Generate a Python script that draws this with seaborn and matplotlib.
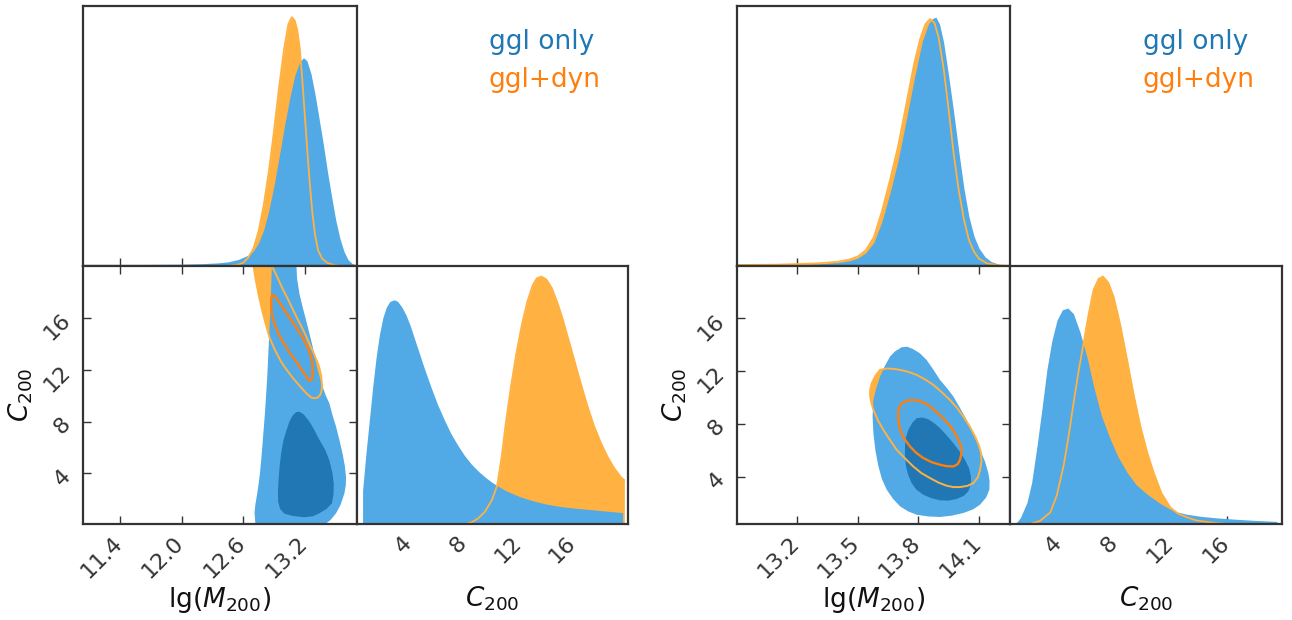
import numpy as np
import matplotlib
matplotlib.use("Agg")
import matplotlib.pyplot as plt
from matplotlib.transforms import ScaledTranslation
import seaborn as sns

sns.set_theme(style="white")
plt.rcParams['font.family'] = ['DejaVu Sans']
plt.rcParams['mathtext.fontset'] = 'dejavusans'

# ---------------- data ----------------
series_names = ["ggl only", "ggl+dyn"]
lgm_ticks_L = [11.4, 12.0, 12.6, 13.2]
lgm_ticks_R = [13.2, 13.5, 13.8, 14.1]
c_ticks = [4, 8, 12, 16]

# left corner: marginal of lg(M200) (normalised height)
lgm_only_L_x = [11.04, 11.6, 12.0, 12.2, 12.35, 12.45, 12.55, 12.65, 12.70, 12.75, 12.80, 12.85,
                12.90, 12.95, 13.00, 13.05, 13.10, 13.15, 13.187, 13.22, 13.26, 13.30, 13.34,
                13.38, 13.42, 13.46, 13.50, 13.54, 13.58, 13.62, 13.66, 13.70]
lgm_only_L_y = [0.006, 0.006, 0.007, 0.009, 0.012, 0.016, 0.025, 0.042, 0.058, 0.09, 0.14, 0.215,
                0.31, 0.42, 0.535, 0.64, 0.73, 0.785, 0.801, 0.79, 0.74, 0.66, 0.565,
                0.47, 0.365, 0.27, 0.18, 0.11, 0.058, 0.025, 0.01, 0.004]
lgm_dyn_L_x = [11.04, 12.45, 12.55, 12.60, 12.65, 12.70, 12.75, 12.80, 12.85, 12.90, 12.95,
               13.00, 13.04, 13.073, 13.10, 13.125, 13.15, 13.175, 13.20, 13.225, 13.25,
               13.275, 13.30, 13.33, 13.37, 13.42, 13.48, 13.55, 13.71]
lgm_dyn_L_y = [0.0, 0.0, 0.005, 0.013, 0.033, 0.068, 0.135, 0.235, 0.365, 0.52, 0.69,
               0.84, 0.93, 0.957, 0.945, 0.91, 0.84, 0.72, 0.58, 0.44, 0.31,
               0.2, 0.12, 0.06, 0.028, 0.012, 0.004, 0.0, 0.0]

# left corner: marginal of C200
c_only_L_x = [0.51, 0.75, 1.0, 1.25, 1.5, 1.75, 2.0, 2.25, 2.5, 2.75, 2.9, 3.1, 3.4, 3.7, 4.0,
              4.5, 5.0, 5.5, 6.0, 6.5, 7.0, 7.5, 8.0, 8.5, 9.0, 9.5, 10.0, 10.5, 11.0, 11.5,
              12.0, 13.0, 14.0, 15.0, 16.0, 17.0, 18.0, 19.0, 19.6]
c_only_L_y = [0.13, 0.27, 0.40, 0.53, 0.645, 0.735, 0.80, 0.84, 0.862, 0.868, 0.868, 0.862,
              0.84, 0.81, 0.77, 0.69, 0.61, 0.535, 0.465, 0.405, 0.35, 0.305, 0.265, 0.232,
              0.205, 0.182, 0.162, 0.145, 0.13, 0.118, 0.107, 0.09, 0.077, 0.068, 0.062,
              0.057, 0.052, 0.047, 0.044]
c_dyn_L_x = [8.07, 8.5, 9.0, 9.5, 10.0, 10.4, 10.75, 11.0, 11.4, 11.8, 12.2, 12.6, 13.0, 13.3,
             13.63, 14.0, 14.4, 14.8, 15.2, 15.6, 16.0, 16.5, 17.0, 17.5, 18.0, 18.5, 19.0,
             19.5, 19.73]
c_dyn_L_y = [0.0, 0.006, 0.022, 0.048, 0.092, 0.15, 0.27, 0.38, 0.53, 0.66, 0.77, 0.86, 0.925,
             0.952, 0.959, 0.948, 0.915, 0.86, 0.795, 0.72, 0.645, 0.55, 0.46, 0.38, 0.315,
             0.26, 0.215, 0.18, 0.17]

# left corner: 2D credible regions (lgM, C200)
only_outer_L_m = [12.88, 12.875, 12.868, 12.86, 12.852, 12.843, 12.834, 12.824, 12.81, 12.795,
                  12.78, 12.765, 12.75, 12.735, 12.718, 12.71, 12.715, 12.72, 13.375, 13.40,
                  13.45, 13.505, 13.55, 13.586, 13.60, 13.602, 13.59, 13.569, 13.54, 13.505,
                  13.47, 13.44, 13.405, 13.375, 13.35, 13.326, 13.30, 13.278, 13.245, 13.213,
                  13.18, 13.148, 13.125, 13.115]
only_outer_L_c = [20.5, 19.0, 17.5, 16.0, 14.5, 13.0, 11.5, 10.2, 8.5, 7.0,
                  5.5, 4.2, 3.2, 2.4, 1.6, 1.0, 0.4, 0.0, 0.0, 0.1,
                  0.4, 0.93, 1.6, 2.46, 3.1, 3.74, 4.6, 5.5, 6.5, 7.6,
                  8.5, 9.4, 10.0, 10.66, 11.3, 11.95, 12.85, 13.74, 14.8, 15.8,
                  16.8, 17.85, 19.0, 20.5]
only_inner_L_m = [13.116, 13.08, 13.05, 13.02, 12.99, 12.97, 12.955, 12.945, 12.938, 12.94,
                  12.96, 13.0, 13.083, 13.197, 13.28, 13.342, 13.41, 13.465, 13.48, 13.482,
                  13.47, 13.44, 13.40, 13.342, 13.29, 13.245, 13.19, 13.15]
only_inner_L_c = [8.74, 8.45, 8.0, 7.3, 6.5, 5.6, 4.6, 3.6, 2.6, 1.8,
                  1.25, 0.9, 0.72, 0.62, 0.7, 0.93, 1.25, 1.7, 2.4, 3.2,
                  4.0, 5.0, 5.8, 6.6, 7.4, 8.0, 8.55, 8.75]
dyn_outer_L_m = [12.69, 12.72, 12.752, 12.79, 12.824, 12.856, 12.89, 12.921, 12.97, 13.018,
                 13.08, 13.148, 13.213, 13.26, 13.294, 13.325, 13.35, 13.363, 13.368, 13.365,
                 13.359, 13.345, 13.33, 13.31, 13.28, 13.245, 13.215, 13.18, 13.13, 13.083,
                 13.035, 12.986, 12.94, 12.888, 12.86]
dyn_outer_L_c = [20.5, 19.0, 17.7, 16.4, 15.39, 14.49, 13.85, 13.33, 12.6, 12.05,
                 11.4, 10.77, 10.2, 9.87, 9.80, 9.85, 10.05, 10.35, 10.7, 11.1,
                 11.54, 12.05, 12.45, 12.82, 13.4, 13.97, 14.55, 15.13, 15.9, 16.66,
                 17.45, 18.2, 19.0, 19.87, 20.5]
dyn_inner_L_m = [12.88, 12.873, 12.872, 12.882, 12.905, 12.937, 12.99, 13.051, 13.11, 13.164,
                 13.205, 13.229, 13.252, 13.268, 13.274, 13.276, 13.272, 13.255, 13.229, 13.19,
                 13.148, 13.10, 13.051, 13.0, 12.953, 12.92, 12.898]
dyn_inner_L_c = [17.74, 17.43, 16.8, 16.16, 15.5, 14.87, 14.1, 13.33, 12.7, 12.05,
                 11.6, 11.28, 11.13, 11.25, 11.54, 12.0, 12.56, 13.15, 13.72, 14.3,
                 14.87, 15.45, 16.03, 16.6, 17.18, 17.55, 17.75]

# right corner: marginal of lg(M200)
lgm_only_R_x = [12.904, 13.1, 13.3, 13.4, 13.46, 13.5, 13.54, 13.58, 13.62, 13.66, 13.70, 13.74,
                13.78, 13.82, 13.85, 13.87, 13.887, 13.905, 13.925, 13.95, 13.975, 14.0, 14.025,
                14.05, 14.075, 14.1, 14.13, 14.16, 14.2, 14.25]
lgm_only_R_y = [0.002, 0.004, 0.008, 0.013, 0.02, 0.03, 0.05, 0.09, 0.17, 0.28, 0.405, 0.56,
                0.72, 0.865, 0.93, 0.952, 0.957, 0.93, 0.86, 0.73, 0.59, 0.44, 0.30,
                0.19, 0.115, 0.068, 0.035, 0.017, 0.006, 0.001]
lgm_dyn_R_x = [12.904, 13.1, 13.3, 13.4, 13.46, 13.5, 13.54, 13.58, 13.62, 13.66, 13.70, 13.74,
               13.78, 13.81, 13.835, 13.858, 13.88, 13.90, 13.925, 13.95, 13.975, 14.0, 14.025,
               14.05, 14.075, 14.1, 14.14, 14.2, 14.25]
lgm_dyn_R_y = [0.004, 0.005, 0.01, 0.016, 0.025, 0.036, 0.06, 0.11, 0.21, 0.33, 0.46, 0.62,
               0.78, 0.875, 0.93, 0.95, 0.935, 0.88, 0.76, 0.6, 0.43, 0.29, 0.18,
               0.10, 0.055, 0.028, 0.01, 0.002, 0.0]

# right corner: marginal of C200
c_only_R_x = [0.83, 1.2, 1.67, 2.0, 2.38, 2.75, 3.1, 3.45, 3.82, 4.2, 4.6, 5.0, 5.49, 6.0, 6.44,
              7.0, 7.64, 8.2, 8.84, 9.5, 10.27, 11.2, 12.18, 13.1, 14.09, 15.2, 16.48, 18.0,
              19.59]
c_only_R_y = [0.0, 0.025, 0.084, 0.16, 0.30, 0.45, 0.60, 0.71, 0.79, 0.83, 0.837, 0.815, 0.74,
              0.64, 0.534, 0.42, 0.328, 0.26, 0.2, 0.152, 0.116, 0.08, 0.05, 0.038, 0.03,
              0.024, 0.019, 0.014, 0.01]
c_dyn_R_x = [1.9, 2.6, 3.34, 3.8, 4.29, 4.65, 5.01, 5.36, 5.72, 6.08, 6.44, 6.8, 7.11, 7.5, 7.88,
             8.36, 8.84, 9.3, 9.79, 10.27, 10.74, 11.3, 11.94, 12.5, 13.14, 13.8, 14.57, 15.3,
             16.0]
c_dyn_R_y = [0.0, 0.012, 0.045, 0.11, 0.225, 0.34, 0.47, 0.59, 0.70, 0.81, 0.907, 0.95, 0.959,
             0.935, 0.88, 0.77, 0.637, 0.505, 0.38, 0.28, 0.2, 0.12, 0.064, 0.04, 0.026,
             0.014, 0.008, 0.003, 0.0]

# right corner: 2D credible regions
only_outer_R_m = [13.745, 13.718, 13.685, 13.66, 13.635, 13.611, 13.592, 13.578, 13.574, 13.578,
                  13.588, 13.603, 13.62, 13.644, 13.675, 13.71, 13.75, 13.792, 13.85, 13.907,
                  13.965, 14.022, 14.07, 14.105, 14.135, 14.151, 14.152, 14.146, 14.13, 14.105,
                  14.075, 14.039, 14.005, 13.973, 13.94, 13.907, 13.875, 13.841, 13.808, 13.775]
only_outer_R_c = [13.85, 13.81, 13.5, 13.10, 12.4, 11.59, 10.7, 9.83, 8.6, 7.32,
                  6.0, 4.80, 3.85, 3.04, 2.35, 1.78, 1.4, 1.15, 1.02, 0.98,
                  1.08, 1.28, 1.55, 1.91, 2.45, 3.04, 3.7, 4.30, 5.15, 6.06,
                  7.2, 8.32, 9.25, 10.09, 10.75, 11.34, 12.1, 12.85, 13.35, 13.66]
only_inner_R_m = [13.792, 13.77, 13.751, 13.738, 13.734, 13.734, 13.739, 13.75, 13.767, 13.79,
                  13.825, 13.865, 13.907, 13.95, 13.989, 14.025, 14.047, 14.06, 14.06, 14.05,
                  14.03, 14.003, 13.973, 13.94, 13.907, 13.878, 13.849, 13.82]
only_inner_R_c = [8.45, 8.1, 7.57, 6.95, 6.31, 5.55, 4.80, 4.15, 3.54, 3.05,
                  2.66, 2.4, 2.24, 2.22, 2.34, 2.58, 2.92, 3.45, 4.05, 4.7,
                  5.31, 5.95, 6.56, 7.15, 7.70, 8.08, 8.37, 8.5]
dyn_outer_R_m = [13.611, 13.588, 13.570, 13.562, 13.562, 13.568, 13.578, 13.60, 13.627, 13.66,
                 13.693, 13.735, 13.775, 13.815, 13.858, 13.9, 13.94, 13.973, 14.006, 14.042,
                 14.072, 14.095, 14.105, 14.112, 14.110, 14.098, 14.080, 14.053, 14.022, 13.99,
                 13.956, 13.915, 13.874, 13.833, 13.792, 13.75, 13.71, 13.675, 13.644]
dyn_outer_R_c = [12.10, 11.65, 11.09, 10.6, 10.09, 9.6, 9.08, 8.3, 7.57, 6.8,
                 6.06, 5.4, 4.80, 4.3, 3.92, 3.58, 3.34, 3.24, 3.24, 3.33,
                 3.54, 4.0, 4.55, 5.2, 5.81, 6.45, 7.07, 7.85, 8.58, 9.25,
                 9.83, 10.42, 10.97, 11.38, 11.72, 11.95, 12.10, 12.18, 12.20]
dyn_inner_R_m = [13.767, 13.74, 13.718, 13.705, 13.701, 13.702, 13.710, 13.73, 13.759, 13.79,
                 13.825, 13.865, 13.907, 13.94, 13.973, 13.995, 14.006, 14.013, 14.014, 14.0,
                 13.981, 13.955, 13.923, 13.89, 13.858, 13.83, 13.80]
dyn_inner_R_c = [9.83, 9.75, 9.58, 9.25, 8.83, 8.2, 7.57, 6.9, 6.31, 5.82,
                 5.43, 5.13, 4.93, 4.82, 4.80, 4.98, 5.31, 5.75, 6.19, 6.75,
                 7.32, 7.9, 8.45, 8.92, 9.33, 9.6, 9.78]

# ---------------- styling ----------------
BLUE_L = "#51a9e5"
BLUE_D = "#2077b4"
ORANGE_L = "#ffb142"
ORANGE_D = "#ff7f0e"
TXT_BLUE = "#1f77b4"
SPINE = "#333333"

W, H = 1292, 620
fig = plt.figure(figsize=(W / 100, H / 100), dpi=100)
xlab_shift = ScaledTranslation(6 / 100, 0, fig.dpi_scale_trans)


def px_axes(x0, y0, x1, y1):
    return fig.add_axes([x0 / W, 1 - y1 / H, (x1 - x0) / W, (y1 - y0) / H])


def style(ax):
    for s in ax.spines.values():
        s.set_color(SPINE)
        s.set_linewidth(1.6)
        s.set_visible(True)
    ax.tick_params(direction='in', length=6, width=1.0, color=SPINE,
                   labelsize=16, labelcolor='#333333')
    ax.grid(False)
    ax.set_facecolor('white')


def closed(a):
    return list(a) + [a[0]]


def shift_xlabels(ax):
    for lab in ax.get_xticklabels():
        lab.set_transform(lab.get_transform() + xlab_shift)


def marginal(ax, xo, yo, xd, yd):
    ax.fill_between(xd, yd, 0, color=ORANGE_L, lw=0)
    ax.fill_between(xo, yo, 0, color=BLUE_L, lw=0)
    sns.lineplot(x=xd, y=yd, ax=ax, color=ORANGE_L, lw=1.3, sort=False, estimator=None)


def joint(ax, oo, oi, do, di):
    ax.fill(do[0], do[1], color=ORANGE_L, lw=0)
    ax.fill(oo[0], oo[1], color=BLUE_L, lw=0)
    ax.fill(oi[0], oi[1], color=BLUE_D, lw=0)
    sns.lineplot(x=closed(do[0]), y=closed(do[1]), ax=ax, color=ORANGE_L, lw=1.4,
                 sort=False, estimator=None)
    sns.lineplot(x=closed(di[0]), y=closed(di[1]), ax=ax, color=ORANGE_D, lw=1.7,
                 sort=False, estimator=None)


def corner(xl, xm, xr, lgm_lim, c_lim, lgm_ticks, lo_x, lo_y, ld_x, ld_y,
           co_x, co_y, cd_x, cd_y, oo, oi, do, di, text_x):
    ax_top = px_axes(xl, 6, xm, 266)
    ax_2d = px_axes(xl, 266, xm, 524)
    ax_c = px_axes(xm, 266, xr, 524)
    for ax in (ax_top, ax_2d, ax_c):
        style(ax)

    marginal(ax_top, lo_x, lo_y, ld_x, ld_y)
    ax_top.set_xlim(*lgm_lim)
    ax_top.set_ylim(0, 1.0)
    ax_top.set_xticks(lgm_ticks)
    ax_top.set_yticks([])
    ax_top.tick_params(labelbottom=False, bottom=True, left=False, labelleft=False)
    ax_top.set_xlabel('')
    ax_top.set_ylabel('')

    joint(ax_2d, oo, oi, do, di)
    ax_2d.set_xlim(*lgm_lim)
    ax_2d.set_ylim(*c_lim)
    ax_2d.tick_params(top=True, right=True, bottom=True, left=True, pad=6)
    ax_2d.set_xticks(lgm_ticks)
    ax_2d.set_yticks(c_ticks)
    ax_2d.set_xticklabels([f"{t:.1f}" for t in lgm_ticks], rotation=45, ha='right')
    ax_2d.set_yticklabels([str(t) for t in c_ticks], rotation=45, ha='right')
    shift_xlabels(ax_2d)
    ax_2d.set_xlabel(r'lg$(M_{200})$', fontsize=19, color='#111111')
    ax_2d.set_ylabel(r'$C_{200}$', fontsize=19, color='#111111')
    ax_2d.xaxis.set_label_coords(0.5, -0.235)
    ax_2d.yaxis.set_label_coords(-0.175, 0.5)

    marginal(ax_c, co_x, co_y, cd_x, cd_y)
    ax_c.set_xlim(*c_lim)
    ax_c.set_ylim(0, 1.0)
    ax_c.tick_params(bottom=True, left=False, labelleft=False, pad=6)
    ax_c.set_xticks(c_ticks)
    ax_c.set_yticks([])
    ax_c.set_xticklabels([str(t) for t in c_ticks], rotation=45, ha='right')
    shift_xlabels(ax_c)
    ax_c.set_xlabel(r'$C_{200}$', fontsize=19, color='#111111')
    ax_c.set_ylabel('')
    ax_c.xaxis.set_label_coords(0.5, -0.235)

    fig.text(text_x / W, 1 - 42 / H, series_names[0], color=TXT_BLUE, fontsize=19,
             ha='left', va='center')
    fig.text(text_x / W, 1 - 80 / H, series_names[1], color=ORANGE_D, fontsize=19,
             ha='left', va='center')


corner(83, 357, 628, (11.037, 13.709), (0.1, 20.0), lgm_ticks_L,
       lgm_only_L_x, lgm_only_L_y, lgm_dyn_L_x, lgm_dyn_L_y,
       c_only_L_x, c_only_L_y, c_dyn_L_x, c_dyn_L_y,
       (only_outer_L_m, only_outer_L_c), (only_inner_L_m, only_inner_L_c),
       (dyn_outer_L_m, dyn_outer_L_c), (dyn_inner_L_m, dyn_inner_L_c), 489)

corner(737, 1010, 1282, (12.904, 14.253), (0.45, 19.95), lgm_ticks_R,
       lgm_only_R_x, lgm_only_R_y, lgm_dyn_R_x, lgm_dyn_R_y,
       c_only_R_x, c_only_R_y, c_dyn_R_x, c_dyn_R_y,
       (only_outer_R_m, only_outer_R_c), (only_inner_R_m, only_inner_R_c),
       (dyn_outer_R_m, dyn_outer_R_c), (dyn_inner_R_m, dyn_inner_R_c), 1143)

fig.savefig("out.png", dpi=100)
